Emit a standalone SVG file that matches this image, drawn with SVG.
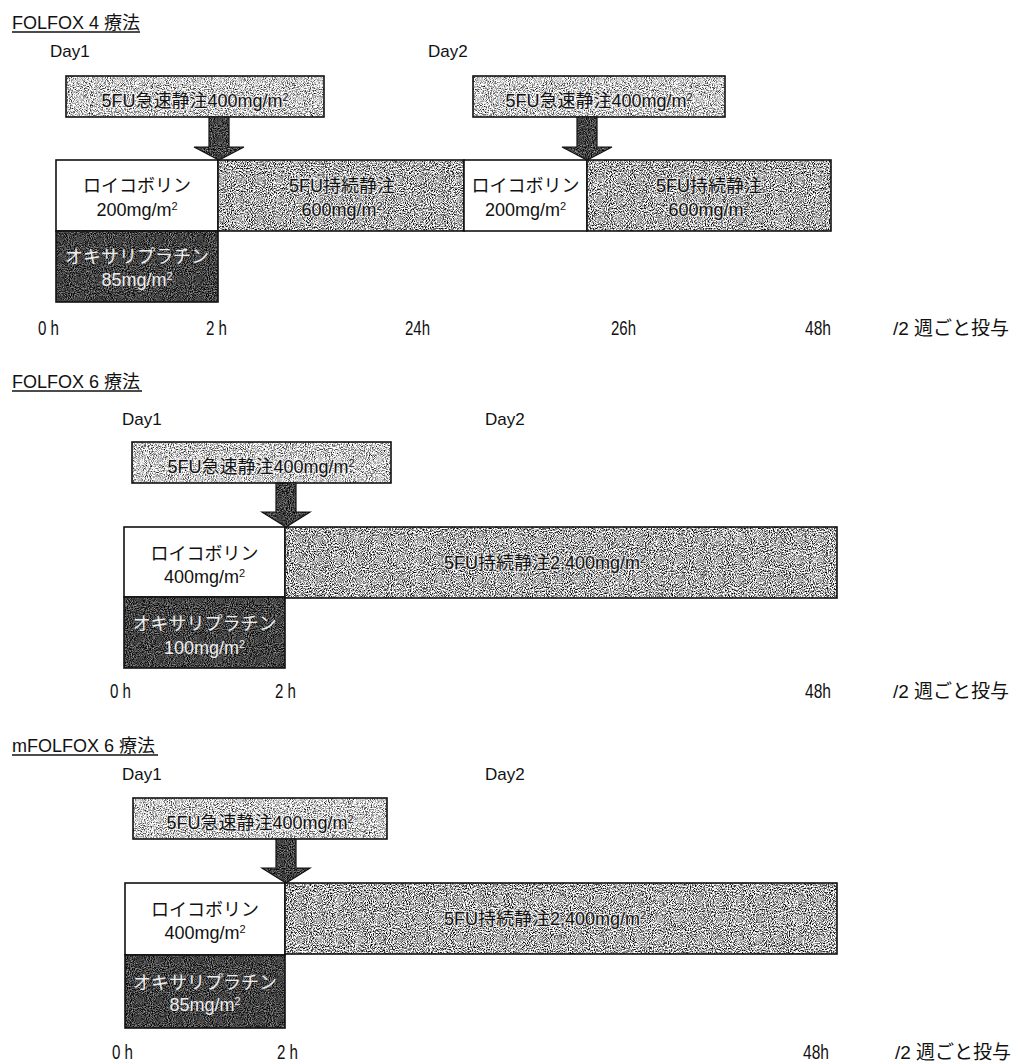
<svg xmlns="http://www.w3.org/2000/svg" width="1020" height="1062" viewBox="0 0 1020 1062">
<style>
.t{font-family:"Liberation Sans","Noto Sans CJK JP",sans-serif;fill:#111}
.title{font-size:18px}
.day{font-size:17px}
.bx{font-size:18px;text-anchor:middle}
.halo{stroke:#fff;stroke-width:2.5;stroke-opacity:0.55;paint-order:stroke;stroke-linejoin:round}
.inv{fill:#eeeeee}
.time{font-size:20px}
.freq{font-size:19px}
.frame{fill:none;stroke:#111;stroke-width:1.6}
.ul{stroke:#111;stroke-width:1.4}
.white{fill:#fff}
.tl{fill:#fff;filter:url(#stLight)}
.tm{fill:#fff;filter:url(#stMid)}
.td{fill:#fff;filter:url(#stDark)}
.arrow{fill:none;stroke:#111;stroke-width:1.2;stroke-linejoin:miter}
</style>
<defs>
<filter id="stLight" x="0" y="0" width="1" height="1" color-interpolation-filters="sRGB">
<feTurbulence type="fractalNoise" baseFrequency="0.95" numOctaves="2" seed="4" result="n"/>
<feColorMatrix in="n" type="matrix" values="2.4 0 0 0 -0.4  2.4 0 0 0 -0.4  2.4 0 0 0 -0.4  0 0 0 0 1" result="g"/>
<feComposite in="g" in2="SourceAlpha" operator="in"/>
</filter>
<filter id="stMid" x="0" y="0" width="1" height="1" color-interpolation-filters="sRGB">
<feTurbulence type="fractalNoise" baseFrequency="0.95" numOctaves="2" seed="9" result="n"/>
<feColorMatrix in="n" type="matrix" values="2.8 0 0 0 -0.72  2.8 0 0 0 -0.72  2.8 0 0 0 -0.72  0 0 0 0 1" result="g"/>
<feComposite in="g" in2="SourceAlpha" operator="in"/>
</filter>
<filter id="stDark" x="0" y="0" width="1" height="1" color-interpolation-filters="sRGB">
<feTurbulence type="fractalNoise" baseFrequency="0.95" numOctaves="2" seed="2" result="n"/>
<feColorMatrix in="n" type="matrix" values="1.2 0 0 0 -0.34  1.2 0 0 0 -0.34  1.2 0 0 0 -0.34  0 0 0 0 1" result="g"/>
<feComposite in="g" in2="SourceAlpha" operator="in"/>
</filter>
</defs>

<!-- ===== Section 1: FOLFOX 4 ===== -->
<g id="title1">
<text class="t title" x="12" y="29">FOLFOX 4 療法</text>
<line class="ul" x1="12" y1="32" x2="140" y2="32"/>
</g>
<g id="day1-s1"><text class="t day" x="50" y="57">Day1</text></g>
<g id="day2-s1"><text class="t day" x="428" y="57">Day2</text></g>

<g id="bolus1-s1">
<rect class="tl" x="66" y="76" width="258" height="41"/>
<rect class="frame" x="66" y="76" width="258" height="41"/>
<text class="t bx halo" x="195" y="107">5FU急速静注400mg/m<tspan font-size="11" baseline-shift="super">2</tspan></text>
</g>
<g id="bolus2-s1">
<rect class="tl" x="473" y="76" width="252" height="41"/>
<rect class="frame" x="473" y="76" width="252" height="41"/>
<text class="t bx halo" x="599" y="107">5FU急速静注400mg/m<tspan font-size="11" baseline-shift="super">2</tspan></text>
</g>
<g id="leuco1-s1">
<rect class="white" x="56" y="160" width="162" height="71"/>
<rect class="frame" x="56" y="160" width="162" height="71"/>
<text class="t bx" x="137" y="192">ロイコボリン</text>
<text class="t bx" x="137" y="216">200mg/m<tspan font-size="11" baseline-shift="super">2</tspan></text>
</g>
<g id="oxali-s1">
<rect class="td" x="56" y="231" width="162" height="71"/>
<rect class="frame" x="56" y="231" width="162" height="71"/>
<text class="t bx inv" x="137" y="263">オキサリプラチン</text>
<text class="t bx inv" x="137" y="286">85mg/m<tspan font-size="11" baseline-shift="super">2</tspan></text>
</g>
<g id="cont1-s1">
<rect class="tm" x="218" y="160" width="246" height="71"/>
<rect class="frame" x="218" y="160" width="246" height="71"/>
<text class="t bx halo" x="342" y="192">5FU持続静注</text>
<text class="t bx halo" x="342" y="216">600mg/m<tspan font-size="11" baseline-shift="super">2</tspan></text>
</g>
<g id="leuco2-s1">
<rect class="white" x="464" y="160" width="123" height="71"/>
<rect class="frame" x="464" y="160" width="123" height="71"/>
<text class="t bx" x="525.5" y="192">ロイコボリン</text>
<text class="t bx" x="525.5" y="216">200mg/m<tspan font-size="11" baseline-shift="super">2</tspan></text>
</g>
<g id="cont2-s1">
<rect class="tm" x="587" y="160" width="244" height="71"/>
<rect class="frame" x="587" y="160" width="244" height="71"/>
<text class="t bx halo" x="709" y="192">5FU持続静注</text>
<text class="t bx halo" x="709" y="216">600mg/m<tspan font-size="11" baseline-shift="super">2</tspan></text>
</g>
<g id="axis-s1">
<text class="t time" x="38" y="335" textLength="21" lengthAdjust="spacingAndGlyphs">0 h</text>
<text class="t time" x="206" y="335" textLength="21" lengthAdjust="spacingAndGlyphs">2 h</text>
<text class="t time" x="405" y="335" textLength="25" lengthAdjust="spacingAndGlyphs">24h</text>
<text class="t time" x="611" y="335" textLength="25" lengthAdjust="spacingAndGlyphs">26h</text>
<text class="t time" x="805" y="335" textLength="26" lengthAdjust="spacingAndGlyphs">48h</text>
<text class="t freq" x="893" y="335">/2 週ごと投与</text>
</g>

<!-- ===== Section 2: FOLFOX 6 ===== -->
<g id="title2">
<text class="t title" x="12" y="388">FOLFOX 6 療法</text>
<line class="ul" x1="12" y1="391" x2="142" y2="391"/>
</g>
<g id="day1-s2"><text class="t day" x="122" y="425">Day1</text></g>
<g id="day2-s2"><text class="t day" x="485" y="425">Day2</text></g>
<g id="bolus-s2">
<rect class="tl" x="132" y="442" width="259" height="41"/>
<rect class="frame" x="132" y="442" width="259" height="41"/>
<text class="t bx halo" x="261" y="473">5FU急速静注400mg/m<tspan font-size="11" baseline-shift="super">2</tspan></text>
</g>
<g id="leuco-s2">
<rect class="white" x="124" y="527" width="161" height="70"/>
<rect class="frame" x="124" y="527" width="161" height="70"/>
<text class="t bx" x="204.5" y="560">ロイコボリン</text>
<text class="t bx" x="204.5" y="583">400mg/m<tspan font-size="11" baseline-shift="super">2</tspan></text>
</g>
<g id="oxali-s2">
<rect class="td" x="124" y="597" width="161" height="71"/>
<rect class="frame" x="124" y="597" width="161" height="71"/>
<text class="t bx inv" x="204.5" y="630">オキサリプラチン</text>
<text class="t bx inv" x="204.5" y="654">100mg/m<tspan font-size="11" baseline-shift="super">2</tspan></text>
</g>
<g id="cont-s2">
<rect class="tm" x="285" y="527" width="552" height="71"/>
<rect class="frame" x="285" y="527" width="552" height="71"/>
<text class="t bx halo" x="545" y="569">5FU持続静注2,400mg/m<tspan font-size="11" baseline-shift="super">2</tspan></text>
</g>
<g id="axis-s2">
<text class="t time" x="110" y="698" textLength="21" lengthAdjust="spacingAndGlyphs">0 h</text>
<text class="t time" x="275" y="698" textLength="21" lengthAdjust="spacingAndGlyphs">2 h</text>
<text class="t time" x="805" y="698" textLength="26" lengthAdjust="spacingAndGlyphs">48h</text>
<text class="t freq" x="893" y="698">/2 週ごと投与</text>
</g>

<!-- ===== Section 3: mFOLFOX 6 ===== -->
<g id="title3">
<text class="t title" x="12" y="752">mFOLFOX 6 療法</text>
<line class="ul" x1="12" y1="755" x2="158" y2="755"/>
</g>
<g id="day1-s3"><text class="t day" x="122" y="780">Day1</text></g>
<g id="day2-s3"><text class="t day" x="485" y="780">Day2</text></g>
<g id="bolus-s3">
<rect class="tl" x="133" y="798" width="254" height="41"/>
<rect class="frame" x="133" y="798" width="254" height="41"/>
<text class="t bx halo" x="260" y="829">5FU急速静注400mg/m<tspan font-size="11" baseline-shift="super">2</tspan></text>
</g>
<g id="leuco-s3">
<rect class="white" x="125" y="883" width="160" height="72"/>
<rect class="frame" x="125" y="883" width="160" height="72"/>
<text class="t bx" x="205" y="916">ロイコボリン</text>
<text class="t bx" x="205" y="939">400mg/m<tspan font-size="11" baseline-shift="super">2</tspan></text>
</g>
<g id="oxali-s3">
<rect class="td" x="125" y="955" width="160" height="73"/>
<rect class="frame" x="125" y="955" width="160" height="73"/>
<text class="t bx inv" x="205" y="989">オキサリプラチン</text>
<text class="t bx inv" x="205" y="1011">85mg/m<tspan font-size="11" baseline-shift="super">2</tspan></text>
</g>
<g id="cont-s3">
<rect class="tm" x="285" y="883" width="552" height="71"/>
<rect class="frame" x="285" y="883" width="552" height="71"/>
<text class="t bx halo" x="545" y="925">5FU持続静注2,400mg/m<tspan font-size="11" baseline-shift="super">2</tspan></text>
</g>
<g id="axis-s3">
<text class="t time" x="112" y="1059" textLength="21" lengthAdjust="spacingAndGlyphs">0 h</text>
<text class="t time" x="277" y="1059" textLength="21" lengthAdjust="spacingAndGlyphs">2 h</text>
<text class="t time" x="803" y="1059" textLength="26" lengthAdjust="spacingAndGlyphs">48h</text>
<text class="t freq" x="895" y="1059">/2 週ごと投与</text>
</g>

<!-- ===== Connectors (bolus arrows) ===== -->
<g id="connectors">
<polygon class="td" points="209,117 229,117 229,147 244,147 219,160 194,147 209,147"/>
<polygon class="arrow" points="209,117 229,117 229,147 244,147 219,160 194,147 209,147"/>
<polygon class="td" points="577,117 597,117 597,147 612,147 587,160 562,147 577,147"/>
<polygon class="arrow" points="577,117 597,117 597,147 612,147 587,160 562,147 577,147"/>
<polygon class="td" points="276,483 296,483 296,512 310,512 286,527 262,512 276,512"/>
<polygon class="arrow" points="276,483 296,483 296,512 310,512 286,527 262,512 276,512"/>
<polygon class="td" points="276,839 296,839 296,868 310,868 286,883 262,868 276,868"/>
<polygon class="arrow" points="276,839 296,839 296,868 310,868 286,883 262,868 276,868"/>
</g>
</svg>
